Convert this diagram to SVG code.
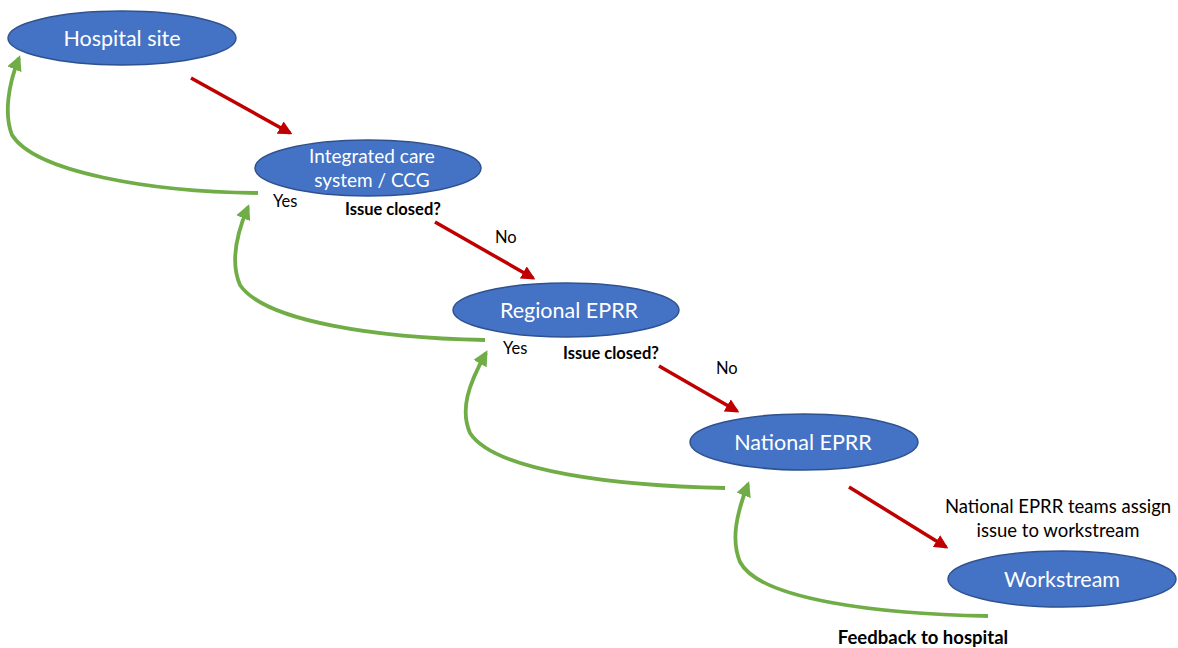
<svg xmlns="http://www.w3.org/2000/svg" width="1178" height="648" viewBox="0 0 1178 648">
<defs>
<style>
.node ellipse{fill:#4472C4;stroke:#2F528F;stroke-width:1.5}
.nt{fill:#fff;font-family:Lato,"Open Sans",sans-serif;font-size:21.5px;text-anchor:middle}
.nt2{fill:#fff;font-family:Lato,"Open Sans",sans-serif;font-size:19px;text-anchor:middle}
.red{stroke:#C00000;stroke-width:3.5;fill:none;marker-end:url(#ar)}
.grn{stroke:#70AD47;stroke-width:3.8;fill:none;marker-end:url(#ag)}
.lb{font-family:Lato,"Open Sans",sans-serif;font-size:16.5px;fill:#000}
.lb2{font-family:Lato,"Open Sans",sans-serif;font-size:18.5px;fill:#000;text-anchor:middle}
.bd{font-weight:bold}
</style>
<marker id="ar" viewBox="0 0 10 10" refX="8" refY="5" markerWidth="4" markerHeight="4" orient="auto" markerUnits="strokeWidth"><path d="M0,0L10,5L0,10z" fill="#C00000"/></marker>
<marker id="ag" viewBox="0 0 10 10" refX="8" refY="5" markerWidth="4" markerHeight="4" orient="auto" markerUnits="strokeWidth"><path d="M0,0L10,5L0,10z" fill="#70AD47"/></marker>
</defs>
<rect width="1178" height="648" fill="#fff"/>
<g id="connectors">
<path class="red" d="M191,78L290,133"/>
<path class="red" d="M435,222L533,278"/>
<path class="red" d="M659,366L737,411"/>
<path class="red" d="M849,487L946,547"/>
<path class="grn" d="M258,193C150,192 35,172 12,135C4,115 8,85 19,58"/>
<path class="grn" d="M485,340C380,338 265,322 240,285C230,262 236,235 248,207"/>
<path class="grn" d="M725,488C620,486 495,472 470,433C460,410 468,385 486,353"/>
<path class="grn" d="M988,616C880,614 760,600 740,562C731,540 736,515 748,484"/>
</g>
<g id="n1" class="node"><ellipse cx="122" cy="38" rx="114" ry="27"/><text class="nt" x="122" y="46">Hospital site</text></g>
<g id="n2" class="node"><ellipse cx="368" cy="168" rx="113" ry="28"/><text class="nt2" x="372" y="163">Integrated care</text><text class="nt2" x="372" y="187">system / CCG</text></g>
<g id="n3" class="node"><ellipse cx="566" cy="310" rx="113" ry="27"/><text class="nt" x="569" y="318">Regional EPRR</text></g>
<g id="n4" class="node"><ellipse cx="804" cy="442" rx="114" ry="28"/><text class="nt" x="803" y="450">National EPRR</text></g>
<g id="n5" class="node"><ellipse cx="1062" cy="579" rx="114" ry="28"/><text class="nt" x="1062" y="587">Workstream</text></g>
<g id="labels">
<text class="lb" x="273" y="207">Yes</text>
<text class="lb bd" x="345" y="215">Issue closed?</text>
<text class="lb" x="495" y="243">No</text>
<text class="lb" x="503" y="354">Yes</text>
<text class="lb bd" x="563" y="359">Issue closed?</text>
<text class="lb" x="716" y="374">No</text>
<text class="lb2" x="1058" y="513">National EPRR teams assign</text>
<text class="lb2" x="1058" y="537">issue to workstream</text>
<text class="lb2 bd" x="923" y="644">Feedback to hospital</text>
</g>
</svg>
